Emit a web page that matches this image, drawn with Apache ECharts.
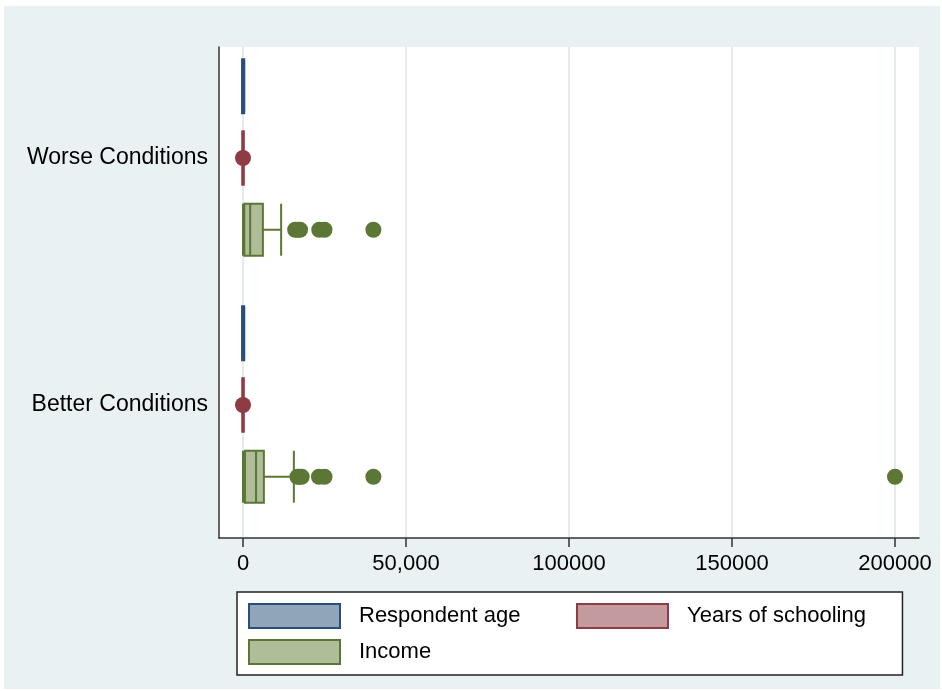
<!DOCTYPE html>
<html>
<head>
<meta charset="utf-8">
<script src="https://cdn.jsdelivr.net/npm/echarts@6/dist/echarts.min.js"></script>
<style>
  html, body { margin: 0; padding: 0; background: #fff; }
  #frame { position: absolute; left: 4px; top: 6px; width: 936px; height: 683px; background: #EAF1F3; }
  #chart { position: absolute; left: 0; top: 0; width: 942px; height: 691px; }
</style>
</head>
<body>
<div id="frame"></div>
<div id="chart"></div>
<script>
const conditions = ['Better Conditions', 'Worse Conditions']
const seriesNames = ['Respondent age', 'Years of schooling', 'Income']
// [min, Q1, median, Q3, max], one row per condition (Better, Worse)
const ageBoxes = [[18, 29, 40, 54, 88], [18, 30, 42, 56, 90]]
const schoolingBoxes = [[2, 8, 12, 15, 20], [2, 8, 11, 14, 20]]
const incomeBoxes = [[0, 600, 4000, 6400, 15600], [0, 400, 2200, 6100, 11700]]
const schoolingOutliers = [[0], [0]]
const incomeOutliers = [
  [16700, 17300, 18000, 23300, 25000, 40000, 200000],
  [16000, 16800, 17500, 23400, 25000, 40000]
]
const xTickValues = [0, 50000, 100000, 150000, 200000]
const xTickLabels = ['0', '50,000', '100000', '150000', '200000']

const colors = {
  age: { border: '#2A4D7B', fill: '#91A5B9' },
  school: { border: '#8E3B44', fill: '#C39B9F' },
  income: { border: '#5C7636', fill: '#AFBD99' }
}
const font = 'Liberation Sans, Arial, sans-serif'

const xMin = -7362
const xMax = 207362
const boxGridTop = 34.5
const boxGridHeight = 494

// same split of a category band that echarts uses for boxplot series
const band = boxGridHeight / conditions.length
const avail = band * 0.8 - 2
const gap = avail / seriesNames.length * 0.3
const boxW = (avail - gap * (seriesNames.length - 1)) / seriesNames.length
const rowStep = boxW + gap

const toPoints = (lists) => {
  const pts = []
  lists.forEach((vals, i) => vals.forEach(v => pts.push([v, conditions[i]])))
  return pts
}

const chart = echarts.init(document.getElementById('chart'))

const legendText = { color: '#000', fontSize: 22, fontFamily: font, lineHeight: 24, padding: [0, 0, 0, 14] }

const option = {
  animation: false,
  grid: [
    { left: 219, width: 700, top: boxGridTop, height: boxGridHeight, show: false },
    { left: 219, width: 700, top: 47, height: 491, show: true, backgroundColor: '#fff', borderWidth: 0, z: 0 }
  ],
  xAxis: [
    { type: 'value', gridIndex: 0, min: xMin, max: xMax, show: false },
    {
      type: 'value', gridIndex: 1, min: xMin, max: xMax,
      axisLine: { show: true, onZero: false, lineStyle: { color: '#333', width: 1.5 } },
      axisTick: { show: true, length: 9, customValues: xTickValues, lineStyle: { color: '#333', width: 1.5 } },
      axisLabel: {
        customValues: xTickValues,
        margin: 15,
        color: '#000', fontSize: 22, fontFamily: font,
        formatter: (v) => xTickLabels[xTickValues.indexOf(v)] ?? ''
      },
      splitLine: { show: true, lineStyle: { color: '#E4ECEF', width: 2 } }
    }
  ],
  yAxis: [
    {
      type: 'category', gridIndex: 0, data: conditions,
      axisLine: { show: false }, axisTick: { show: false }, splitLine: { show: false },
      axisLabel: { margin: 11, color: '#000', fontSize: 23, fontFamily: font }
    },
    {
      type: 'value', gridIndex: 1, min: 0, max: 1,
      axisLine: { show: true, onZero: false, lineStyle: { color: '#333', width: 1.5 } },
      axisTick: { show: false }, axisLabel: { show: false }, splitLine: { show: false }
    }
  ],
  legend: [
    {
      left: 237, top: 592, orient: 'vertical',
      padding: [11, 382, 10, 11],
      itemWidth: 91, itemHeight: 24, itemGap: 10,
      icon: 'rect',
      backgroundColor: '#fff', borderColor: '#222', borderWidth: 1.5,
      textStyle: legendText,
      data: [
        { name: 'Respondent age', itemStyle: { color: colors.age.fill, borderColor: colors.age.border, borderWidth: 2 } },
        { name: 'Income', itemStyle: { color: colors.income.fill, borderColor: colors.income.border, borderWidth: 2 } }
      ]
    },
    {
      left: 576, top: 603, padding: 0, z: 6,
      itemWidth: 91, itemHeight: 24,
      icon: 'rect',
      textStyle: legendText,
      data: [
        { name: 'Years of schooling', itemStyle: { color: colors.school.fill, borderColor: colors.school.border, borderWidth: 2 } }
      ]
    }
  ],
  series: [
    {
      name: 'Respondent age', type: 'boxplot', xAxisIndex: 0, yAxisIndex: 0,
      boxWidth: [boxW, boxW],
      itemStyle: { color: colors.age.fill, borderColor: colors.age.border, borderWidth: 4 },
      data: ageBoxes
    },
    {
      name: 'Years of schooling', type: 'boxplot', xAxisIndex: 0, yAxisIndex: 0,
      boxWidth: [boxW, boxW],
      itemStyle: { color: colors.school.fill, borderColor: colors.school.border, borderWidth: 3.5 },
      data: schoolingBoxes
    },
    {
      name: 'Income', type: 'boxplot', xAxisIndex: 0, yAxisIndex: 0,
      boxWidth: [boxW, boxW],
      itemStyle: { color: colors.income.fill, borderColor: colors.income.border, borderWidth: 2 },
      data: incomeBoxes
    },
    {
      name: 'Schooling outliers', type: 'scatter', xAxisIndex: 0, yAxisIndex: 0,
      symbolSize: 16, z: 5,
      itemStyle: { color: colors.school.border, opacity: 1 },
      data: toPoints(schoolingOutliers)
    },
    {
      name: 'Income outliers', type: 'scatter', xAxisIndex: 0, yAxisIndex: 0,
      symbolSize: 16, symbolOffset: [0, rowStep], z: 5,
      itemStyle: { color: colors.income.border, opacity: 1 },
      data: toPoints(incomeOutliers)
    }
  ]
}

option && chart.setOption(option)

window.addEventListener('resize', function () {
  chart.resize()
})
</script>
</body>
</html>
